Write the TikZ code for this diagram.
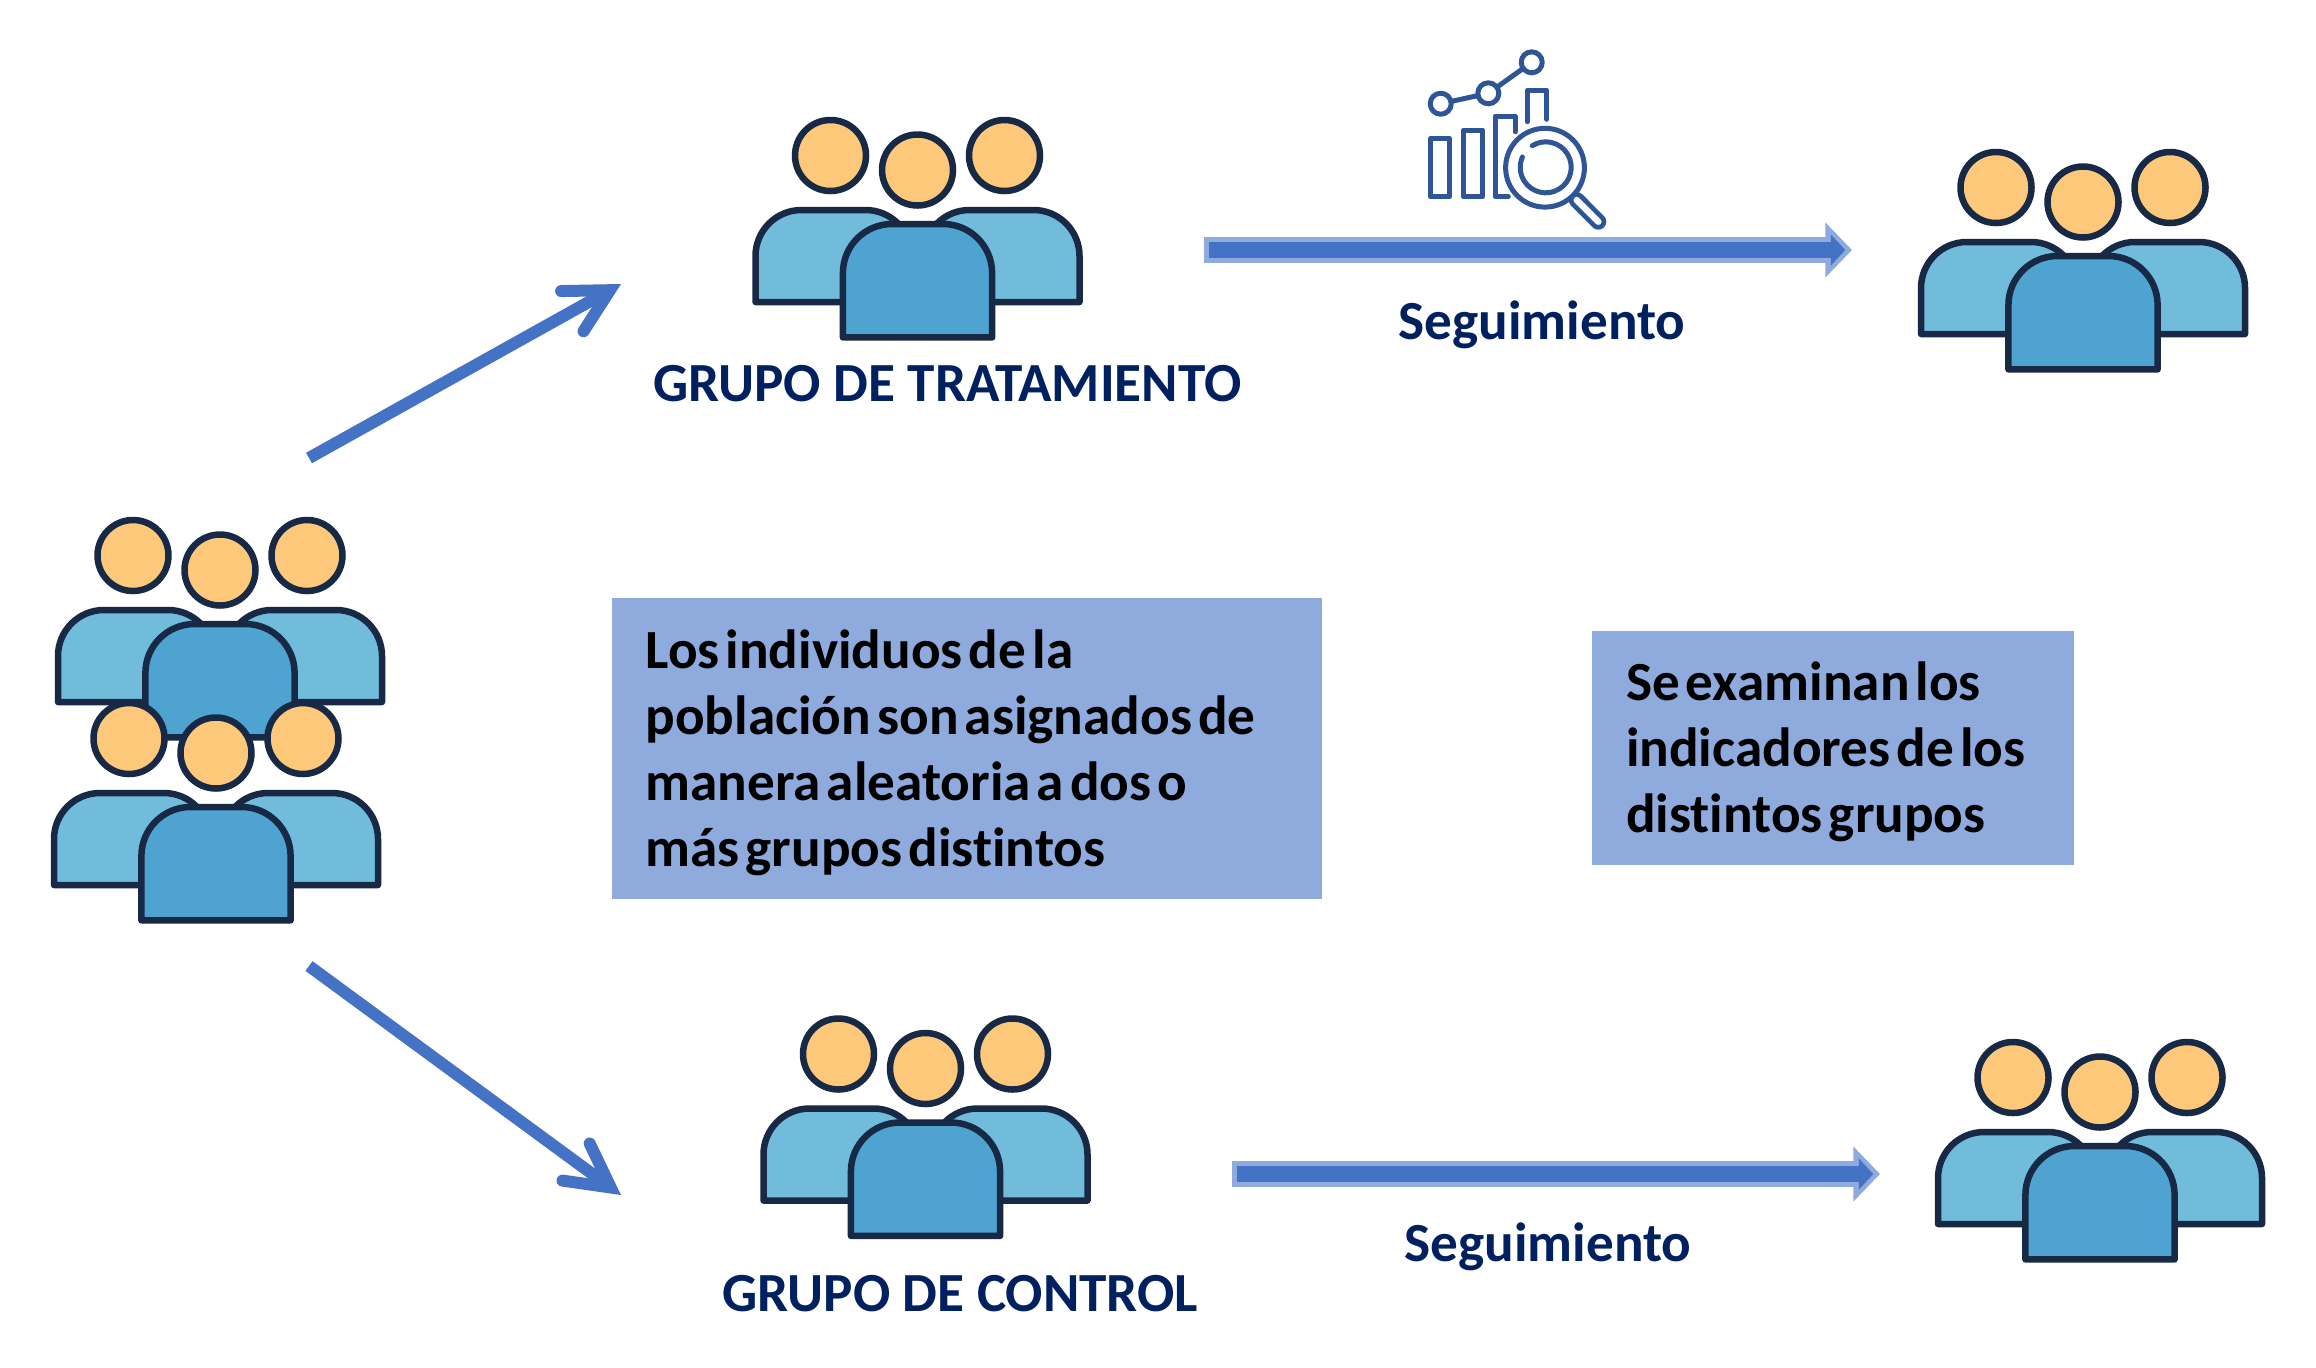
\documentclass[tikz,border=0pt]{standalone}
\usepackage{fontspec}
\setmainfont[Ligatures=NoCommon]{Carlito}
\usetikzlibrary{arrows.meta, positioning}
\definecolor{cabeza}{HTML}{FDC87A}
\definecolor{azulclaro}{HTML}{72BCDB}
\definecolor{azulmedio}{HTML}{4FA3D1}
\definecolor{contorno}{HTML}{172945}
\definecolor{flechaazul}{HTML}{4472C4}
\definecolor{flechaclara}{HTML}{8FAADC}
\definecolor{marino}{HTML}{002060}
\definecolor{lupa}{HTML}{2F5597}
\newcommand{\fila}[1]{\mbox{\spaceskip 0.11em\relax #1}}
\tikzset{
  cuerpo/.style={draw=contorno, line width=3.25pt, line join=round},
  grupo/.pic={
    \draw[cuerpo, fill=azulclaro] (-162,132) [rounded corners=23pt] -- (-162,40) -- (-6,40) [sharp corners] -- (-6,132) -- cycle;
    \draw[cuerpo, fill=azulclaro] (162,132) [rounded corners=23pt] -- (162,40) -- (6,40) [sharp corners] -- (6,132) -- cycle;
    \draw[cuerpo, fill=azulmedio] (-74.6,167.4) [rounded corners=24.5pt] -- (-74.6,54) -- (74.6,54) [sharp corners] -- (74.6,167.4) -- cycle;
    \foreach \hx/\hy in {-87/-14.5, 87/-14.5, 0/0}
      \draw[cuerpo, fill=cabeza] (\hx,\hy) circle (17.75pt);
  },
  reparto/.style={draw=flechaazul, line width=6pt,
    -{Straight Barb[length=21.5pt, width=23pt, line cap=round, line join=miter]}},
  seguirfondo/.style={draw=flechaclara, line width=12.7pt,
    -{Triangle[length=13.3pt, width=26.7pt, fill=flechaclara]}},
  seguirfrente/.style={draw=flechaazul, line width=8pt, shorten <=2.5pt, shorten >=3.35pt,
    -{Triangle[length=7.2pt, width=15pt, fill=flechaazul]}},
  titulo/.style={font=\fontsize{27.6}{33}\selectfont\bfseries, text=marino, inner sep=0pt},
  recuadro/.style={fill=flechaclara, font=\fontsize{27.6}{33}\selectfont\bfseries, text=black,
    align=left, inner xsep=17pt, inner ysep=0pt},
  trazo/.style={draw=lupa, line width=2.5pt, line join=round, line cap=round},
}
\begin{document}
\begin{tikzpicture}[x=0.5pt, y=-0.5pt]
  \useasboundingbox (0,0) rectangle (2316,1367);

  % grupos
  \pic at (220,570) {grupo};
  \pic at (216,753) {grupo};
  \pic at (917.5,170) {grupo};
  \pic at (2083,202) {grupo};
  \pic at (925.5,1068.5) {grupo};
  \pic at (2100,1092) {grupo};

  % extremos de las flechas
  \coordinate (pob1) at (309,458);
  \coordinate (trat) at (621,284);
  \coordinate (pob2) at (309,966);
  \coordinate (ctrl) at (621,1195);
  \coordinate (seg1a) at (1204,250);
  \coordinate (seg1b) at (1852,250);
  \coordinate (seg2a) at (1232,1174);
  \coordinate (seg2b) at (1880,1174);

  \path (pob1) edge [reparto] (trat)
        (pob2) edge [reparto] (ctrl)
        (seg1a) edge [seguirfondo] (seg1b)
        (seg1a) edge [seguirfrente] (seg1b)
        (seg2a) edge [seguirfondo] (seg2b)
        (seg2a) edge [seguirfrente] (seg2b);

  \node[titulo] (grupot) at (947.5,384) {GRUPO DE TRATAMIENTO};
  \node[titulo] (grupoc) at (960.5,1294) {GRUPO DE CONTROL};
  \node[titulo] (seguia) at (1542,325) {Seguimiento};
  \node[titulo] (seguib) at (1548,1247) {Seguimiento};

  \node[recuadro, text width=321pt, minimum height=150.5pt] (texta) at (966.5,748.5)
    {\rule{0pt}{23.2pt}\fila{Los individuos de la}\\\fila{población son asignados de}\\\fila{manera aleatoria a dos o}\\\fila{más grupos distintos}};
  \node[recuadro, text width=207pt, minimum height=117pt] (textb) at (1833,748)
    {\rule{0pt}{23.2pt}\fila{Se examinan los}\\\fila{indicadores de los}\\\fila{distintos grupos}};

  % icono de seguimiento
  \draw[trazo] (1440.7,103.7) -- (1488.3,93.3) -- (1531.7,62.3);
  \foreach \nx/\ny in {1440.7/103.7, 1488.3/93.3, 1531.7/62.3}
    \draw[trazo, fill=white] (\nx,\ny) circle (5.25pt);
  \draw[trazo] (1430.7,196.7) rectangle (1449.3,138.3);
  \draw[trazo] (1463.3,196.7) rectangle (1482.7,130);
  \draw[trazo] (1508.3,196.7) -- (1495,196.7) -- (1495,116) -- (1515,116) -- (1515,131.7);
  \draw[trazo] (1527.3,121.7) -- (1527.3,90) -- (1546.7,90) -- (1546.7,119.3);
  \draw[trazo, fill=white] (1545,167.7) circle (19.7pt);
  \draw[trazo] (1532.2,145.7) arc (122:-204:12.75pt);
  \draw[lupa, line width=8pt, line cap=round] (1576.7,200) -- (1598.3,221.7);
  \draw[white, line width=3.2pt, line cap=round] (1576.7,200) -- (1598.3,221.7);
\end{tikzpicture}
\end{document}
